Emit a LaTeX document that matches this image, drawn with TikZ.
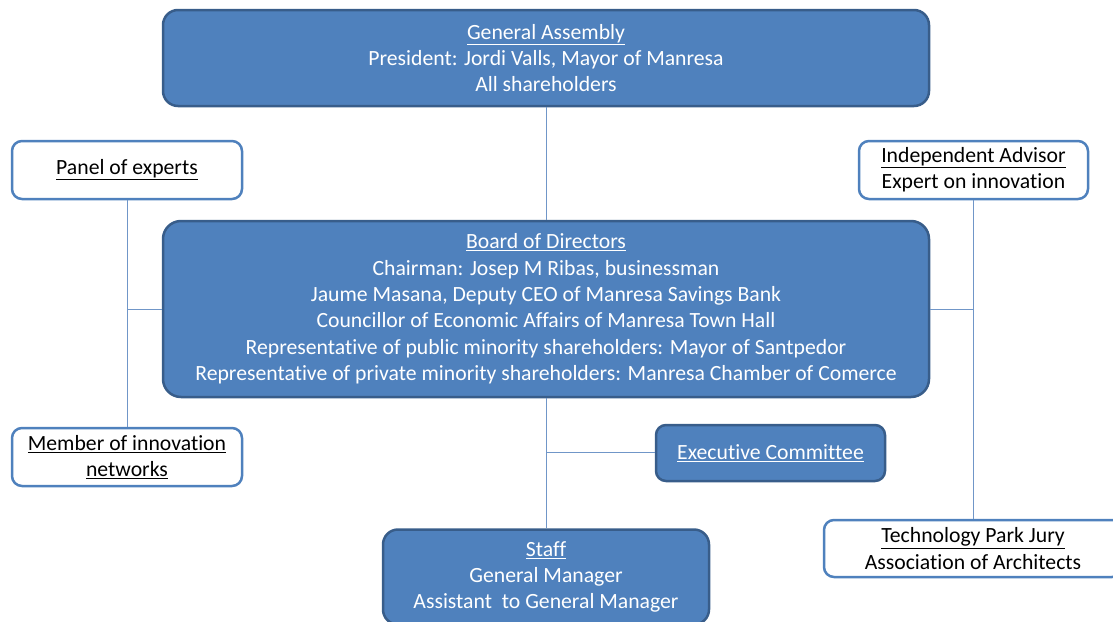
\documentclass[tikz,border=0pt]{standalone}
\usepackage{fontspec}
\setmainfont[Ligatures=NoCommon]{Carlito}
\definecolor{boxblue}{HTML}{4F81BD}
\definecolor{boxedge}{HTML}{385D8A}
\definecolor{linkblue}{HTML}{7096C8}
\tikzset{
  bluebox/.style={draw=boxedge,fill=boxblue,line width=2.5pt,text=white,
    align=center,inner sep=0pt},
  whitebox/.style={draw=boxblue,fill=white,line width=2.5pt,text=black,
    align=center,inner sep=0pt},
  link/.style={draw=linkblue,line width=1pt}
}
\newcommand{\boxtext}{\fontsize{21.7}{26.4}\selectfont}
\begin{document}
\begin{tikzpicture}[x=1pt,y=-1pt,font=\boxtext]
  \useasboundingbox (0,0) rectangle (1113,621);
  \clip (0,0) rectangle (1113,621);

  \node[bluebox,rounded corners=15pt,minimum width=766pt,minimum height=96pt] (ga) at (546,58)
    {\underline{General Assembly}\\President: Jordi Valls, Mayor of Manresa\\All shareholders};
  \node[whitebox,rounded corners=10pt,minimum width=230pt,minimum height=58pt] (panel) at (127,170)
    {\underline{Panel of experts}};
  \node[whitebox,rounded corners=10pt,minimum width=229pt,minimum height=58pt] (advisor) at (973.5,170)
    {\underline{Independent Advisor}\\Expert on innovation};
  \node[bluebox,rounded corners=18pt,minimum width=766pt,minimum height=176pt] (board) at (546,309)
    {\underline{Board of Directors}\\
     Chairman: Josep M Ribas, businessman\\
     Jaume Masana, Deputy CEO of Manresa Savings Bank\\
     Councillor of Economic Affairs of Manresa Town Hall\\
     Representative of public minority shareholders: Mayor of Santpedor\\
     Representative of private minority shareholders: Manresa Chamber of Comerce};
  \node[whitebox,rounded corners=10pt,minimum width=230pt,minimum height=58pt] (member) at (127,457)
    {\underline{Member of innovation}\\\underline{networks}};
  \node[bluebox,rounded corners=10pt,minimum width=229pt,minimum height=56pt] (exec) at (770.5,453)
    {\underline{Executive Committee}};
  \node[bluebox,rounded corners=15pt,minimum width=326pt,minimum height=95pt] (staff) at (546,577)
    {\underline{Staff}\\General Manager\\Assistant\ \ to General Manager};
  \node[whitebox,rounded corners=10pt,minimum width=298pt,minimum height=57pt] (jury) at (973,548.5)
    {\underline{Technology Park Jury}\\Association of Architects};

  % connectors
  \coordinate (execjoin) at (546,452);
  \draw[link] (ga) -- (board);
  \draw[link] (board) -- (staff);
  \draw[link] (execjoin) -- (execjoin -| exec.west);
  \draw[link] (panel) -- (member);
  \draw[link] (board.west) -- (board.west -| panel.south);
  \draw[link] (advisor.south) -- (advisor.south |- jury.north);
  \draw[link] (board.east) -- (board.east -| advisor.south);
\end{tikzpicture}
\end{document}
